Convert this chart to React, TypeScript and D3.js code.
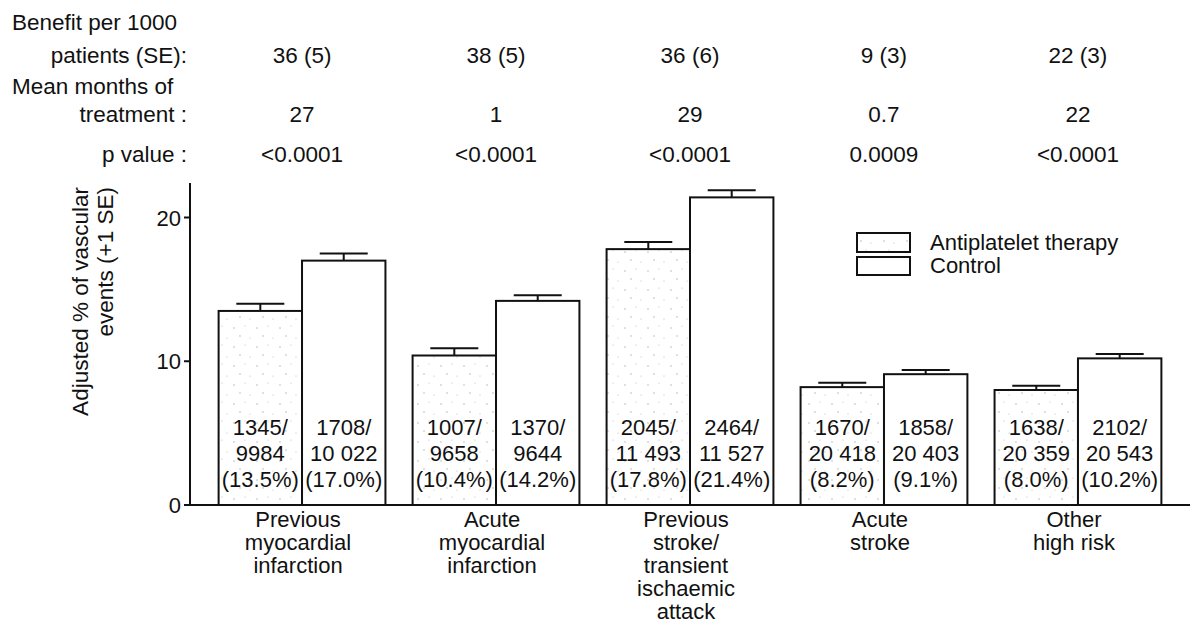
import * as d3 from 'd3';

// categories and series
const groups = ['pmi', 'ami', 'pst', 'ast', 'ohr'];
const groupLabels = [
  ['Previous', 'myocardial', 'infarction'],
  ['Acute', 'myocardial', 'infarction'],
  ['Previous', 'stroke/', 'transient', 'ischaemic', 'attack'],
  ['Acute', 'stroke'],
  ['Other', 'high risk'],
];
const series = ['Antiplatelet therapy', 'Control'];

// adjusted % of vascular events and SE
const antiplateletPct = [13.5, 10.4, 17.8, 8.2, 8.0];
const controlPct = [17.0, 14.2, 21.4, 9.1, 10.2];
const antiplateletSE = [0.5, 0.5, 0.5, 0.3, 0.3];
const controlSE = [0.5, 0.4, 0.5, 0.3, 0.3];

// events / patients
const antiplateletEvents = ['1345', '1007', '2045', '1670', '1638'];
const antiplateletPatients = ['9984', '9658', '11 493', '20 418', '20 359'];
const controlEvents = ['1708', '1370', '2464', '1858', '2102'];
const controlPatients = ['10 022', '9644', '11 527', '20 403', '20 543'];

// header rows
const benefitSE = ['36 (5)', '38 (5)', '36 (6)', '9 (3)', '22 (3)'];
const meanMonths = ['27', '1', '29', '0.7', '22'];
const pValues = ['<0.0001', '<0.0001', '<0.0001', '0.0009', '<0.0001'];

const yTicks = [0, 10, 20];

const W = 1197;
const H = 625;
const FONT = '"Liberation Sans", Arial, Helvetica, sans-serif';

export default function App() {
  const x = d3.scaleBand<string>()
    .domain(groups)
    .range([190, 1190])
    .paddingInner(0.14)
    .paddingOuter(0.1475);
  const xs = d3.scaleBand<string>().domain(series).range([0, x.bandwidth()]).padding(0);
  const y = d3.scaleLinear().domain([0, 22.4]).range([505, 183]);

  const bars = groups.flatMap((g, i) => [
    { g, s: series[0], v: antiplateletPct[i], se: antiplateletSE[i], ev: antiplateletEvents[i], n: antiplateletPatients[i] },
    { g, s: series[1], v: controlPct[i], se: controlSE[i], ev: controlEvents[i], n: controlPatients[i] },
  ]);

  const headerRows = [
    { vals: benefitSE, y: 63 },
    { vals: meanMonths, y: 122 },
    { vals: pValues, y: 162 },
  ];

  return (
    <div style={{ position: 'absolute', left: 0, top: 0 }}>
      <svg width={W} height={H} style={{ display: 'block', background: '#fff' }} fontFamily={FONT}>
        <defs>
          <pattern id="stipple" width="23" height="19" patternUnits="userSpaceOnUse">
            <rect width="23" height="19" fill="#fff" />
            <circle cx="4" cy="5" r="0.7" fill="#aaa" />
            <circle cx="15" cy="3" r="0.6" fill="#bbb" />
            <circle cx="10" cy="13" r="0.7" fill="#aaa" />
            <circle cx="20" cy="15" r="0.6" fill="#bbb" />
          </pattern>
        </defs>

        {/* header labels */}
        <g fontSize={22.5} fill="#111">
          <text x={12} y={30}>Benefit per 1000</text>
          <text x={187} y={63} textAnchor="end">patients (SE):</text>
          <text x={12} y={94}>Mean months of</text>
          <text x={187} y={122} textAnchor="end">treatment :</text>
          <text x={187} y={162} textAnchor="end">p value :</text>
          {headerRows.map((r, ri) =>
            r.vals.map((v, i) => (
              <text key={ri + '-' + i} x={(x(groups[i]) ?? 0) + x.bandwidth() / 2} y={r.y} textAnchor="middle">{v}</text>
            ))
          )}
        </g>

        {/* bars */}
        {bars.map((b, i) => {
          const bx = (x(b.g) ?? 0) + (xs(b.s) ?? 0);
          const bw = xs.bandwidth();
          const cx = bx + bw / 2;
          return (
            <g key={i}>
              <line x1={cx} x2={cx} y1={y(b.v)} y2={y(b.v + b.se)} stroke="#111" strokeWidth={2} />
              <line x1={cx - 24} x2={cx + 24} y1={y(b.v + b.se)} y2={y(b.v + b.se)} stroke="#111" strokeWidth={2} />
              <rect x={bx} y={y(b.v)} width={bw} height={y(0) - y(b.v)}
                fill={b.s === series[0] ? 'url(#stipple)' : '#fff'} stroke="#111" strokeWidth={2} />
              <g fontSize={22} fill="#111" textAnchor="middle">
                <text x={cx} y={y(0) - 70}>{b.ev}/</text>
                <text x={cx} y={y(0) - 44}>{b.n}</text>
                <text x={cx} y={y(0) - 18}>({b.v.toFixed(1)}%)</text>
              </g>
            </g>
          );
        })}

        {/* y axis */}
        <line x1={190} x2={190} y1={183} y2={y(0)} stroke="#111" strokeWidth={2} />
        {yTicks.map(t => (
          <g key={t}>
            <line x1={184} x2={190} y1={y(t)} y2={y(t)} stroke="#111" strokeWidth={2} />
            <text x={181} y={y(t) + 8} textAnchor="end" fontSize={22} fill="#111">{t}</text>
          </g>
        ))}
        <g transform="translate(88,187) rotate(-90)" fontSize={22.5} fill="#111" textAnchor="end">
          <text x={0} y={0}>Adjusted % of vascular</text>
          <text x={0} y={25}>events (+1 SE)</text>
        </g>

        {/* x axis */}
        <line x1={184} x2={1190} y1={y(0)} y2={y(0)} stroke="#111" strokeWidth={2} />
        {groupLabels.map((lines, i) => (
          <text key={i} textAnchor="middle" fontSize={22} fill="#111">
            {lines.map((l, j) => (
              <tspan key={j} x={(x(groups[i]) ?? 0) + x.bandwidth() / 2 - 4} y={527 + j * 23}>{l}</tspan>
            ))}
          </text>
        ))}

        {/* legend */}
        <g fontSize={22} fill="#111">
          <rect x={857} y={233} width={53} height={19} fill="url(#stipple)" stroke="#111" strokeWidth={2} />
          <text x={930} y={250}>{series[0]}</text>
          <rect x={857} y={257} width={53} height={18} fill="#fff" stroke="#111" strokeWidth={2} />
          <text x={930} y={273}>{series[1]}</text>
        </g>
      </svg>
    </div>
  );
}
